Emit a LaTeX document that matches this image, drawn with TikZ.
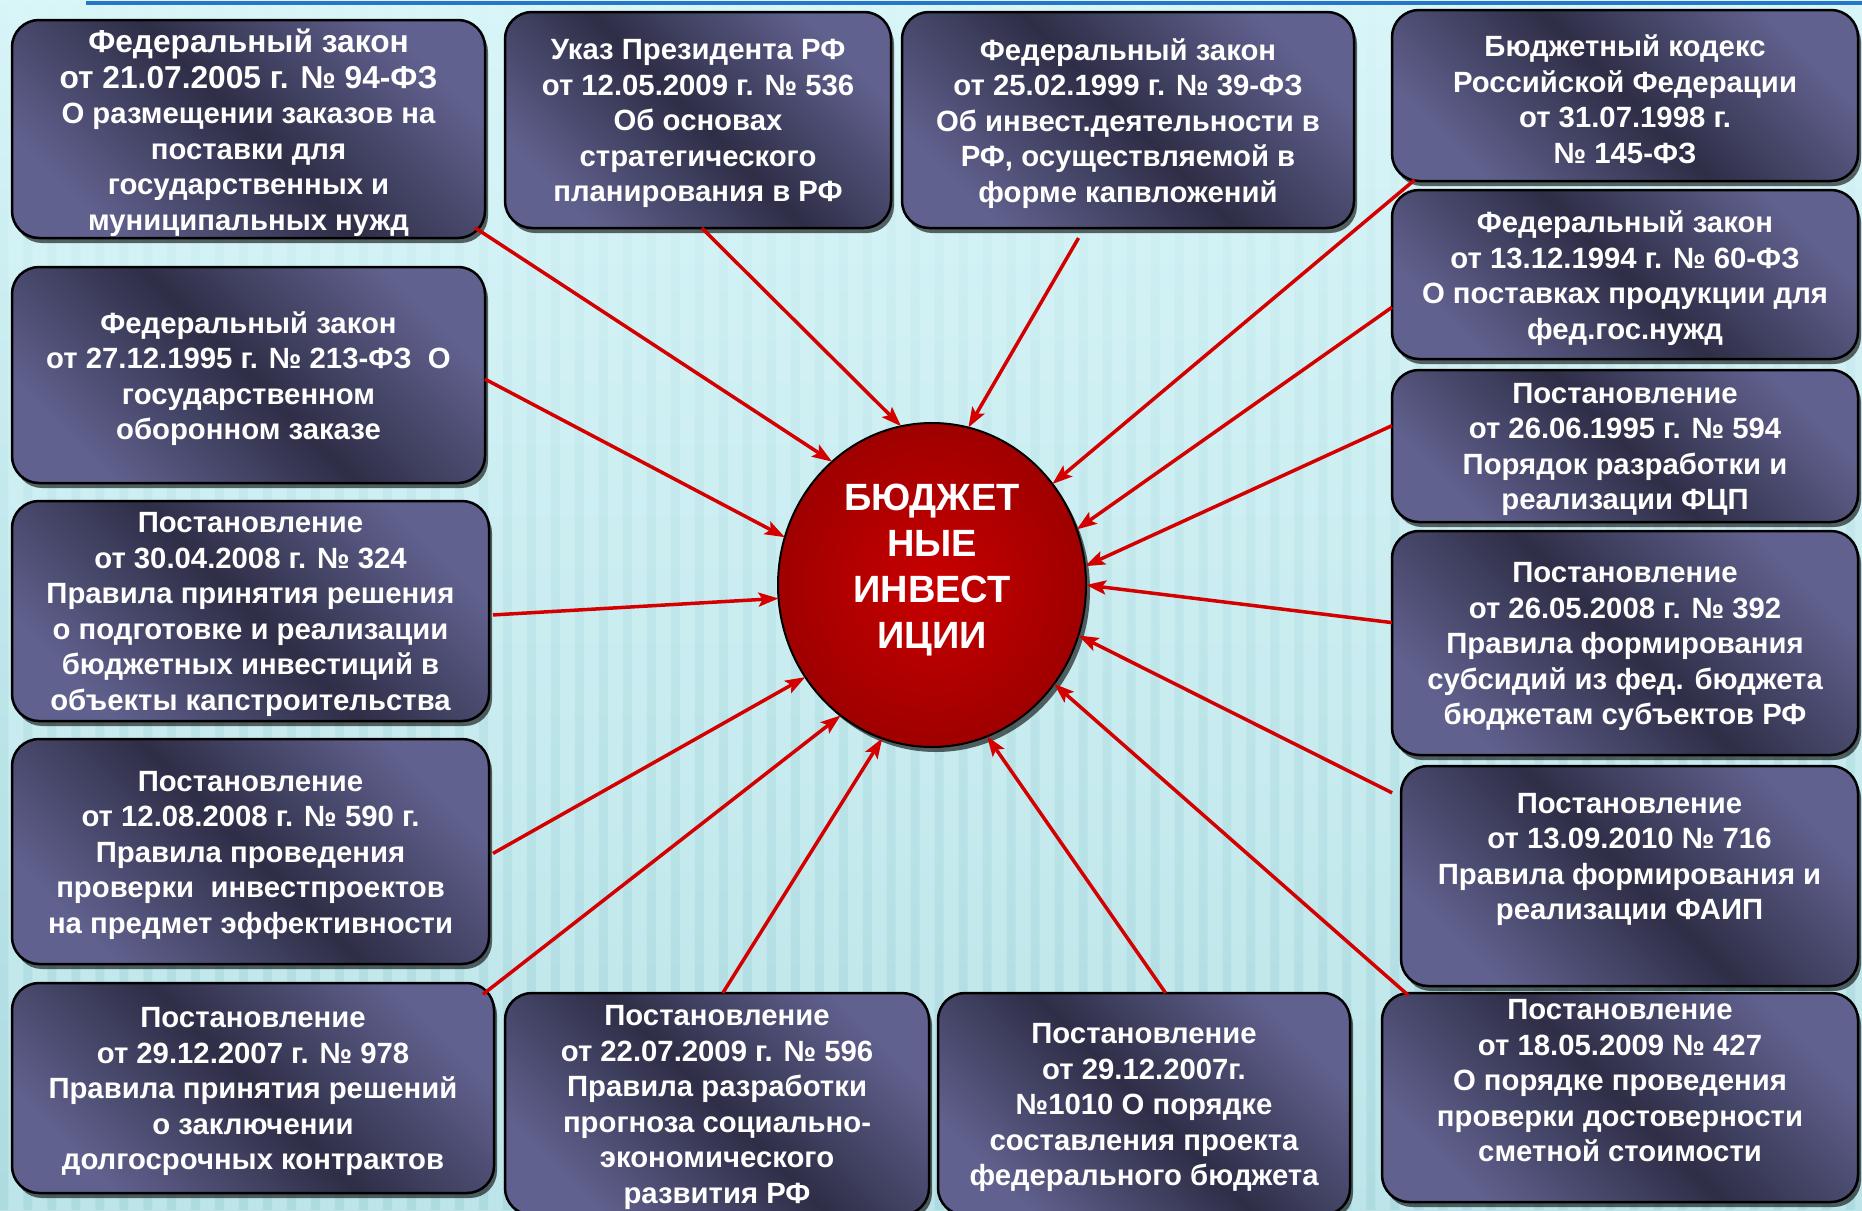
\documentclass[tikz,border=0pt]{standalone}
\usepackage{fontspec}
\setmainfont{Liberation Sans}
\usetikzlibrary{shadows,arrows.meta,calc,shapes.geometric,fadings}
\definecolor{bgtop}{HTML}{D8F5F8}
\definecolor{bgbot}{HTML}{BDE5E9}
\definecolor{stripe}{HTML}{8FCAD1}
\definecolor{boxL}{HTML}{61618F}
\definecolor{boxD}{HTML}{2E2E47}
\definecolor{arr}{HTML}{D40000}
\definecolor{topline}{HTML}{2677C9}
\definecolor{cin}{HTML}{C80000}
\definecolor{cout}{HTML}{760000}
\pgfdeclareradialshading{redball}{\pgfpoint{0bp}{0bp}}{color(0bp)=(cin); color(50bp)=(cout); color(100bp)=(cout)}
\tikzset{
 lawbox/.style={draw=black, line width=2.5pt, rounded corners=27pt, left color=boxL, right color=boxL, middle color=boxD, shading angle=-45, outer sep=0pt, inner sep=0pt, drop shadow={shadow xshift=3pt, shadow yshift=-5pt, opacity=0.6, fill=black}},
 lawtext/.style={text=white, align=center, font=\fontsize{29.3}{35.5}\selectfont\bfseries, inner sep=0pt, yshift=-3.5pt},
 link/.style={draw=arr, line width=3.5pt, -{Stealth[length=20pt,width=14pt,inset=4pt]}},
}
\newcommand{\bighead}{\fontsize{31.7}{36}\selectfont}
\begin{document}
\begin{tikzpicture}[x=1pt,y=-1pt]
\useasboundingbox (0,0) rectangle (1862,1210);
\fill[top color=bgtop, bottom color=bgbot] (0,0) rectangle (1862,1210);
\fill[stripe, opacity=0.35, path fading=north] \foreach \x in {0,24,...,1870} {(\x,0) rectangle ++(9,1210)};
\draw[topline, line width=4pt] (86,3) -- (1862,3);

\node[lawbox, minimum width=473pt, minimum height=218pt] (b1) at (248.5,129) {};
\node[lawbox, minimum width=386pt, minimum height=216pt] (b2) at (698,120) {};
\node[lawbox, minimum width=452pt, minimum height=216pt] (b3) at (1128,120) {};
\node[lawbox, minimum width=466pt, minimum height=171pt] (b4) at (1625,95.5) {};
\node[lawbox, minimum width=466pt, minimum height=169pt] (b5) at (1625,274.5) {};
\node[lawbox, minimum width=466pt, minimum height=152pt] (b6) at (1625,446) {};
\node[lawbox, minimum width=466pt, minimum height=224pt] (b7) at (1625,643) {};
\node[lawbox, minimum width=457pt, minimum height=220pt] (b8) at (1629.5,876) {};
\node[lawbox, minimum width=476pt, minimum height=209pt] (b9) at (1620,1097.5) {};
\node[lawbox, minimum width=412pt, minimum height=222pt] (b10) at (1144,1104) {};
\node[lawbox, minimum width=424pt, minimum height=222pt] (b11) at (717,1104) {};
\node[lawbox, minimum width=482pt, minimum height=210pt] (b12) at (253,1088) {};
\node[lawbox, minimum width=477pt, minimum height=225pt] (b13) at (250.5,851.5) {};
\node[lawbox, minimum width=477pt, minimum height=220pt] (b14) at (250.5,611) {};
\node[lawbox, minimum width=473pt, minimum height=216pt] (b15) at (248.5,375) {};

\node[lawtext] (t1) at (b1) {{\bighead Федеральный закон}\\{\bighead от 21.07.2005 г. № 94-ФЗ}\\О размещении заказов на\\поставки для\\государственных и\\муниципальных нужд};
\node[lawtext] (t2) at (b2) {Указ Президента РФ\\от 12.05.2009 г. № 536\\Об основах\\стратегического\\планирования в РФ};
\node[lawtext] (t3) at (b3) {Федеральный закон\\от 25.02.1999 г. № 39-ФЗ\\Об инвест.деятельности в\\РФ, осуществляемой в\\форме капвложений};
\node[lawtext] (t4) at (b4) {Бюджетный кодекс\\Российской Федерации\\от 31.07.1998 г.\\№ 145-ФЗ};
\node[lawtext] (t5) at (b5) {Федеральный закон\\от 13.12.1994 г. № 60-ФЗ\\О поставках продукции для\\фед.гос.нужд};
\node[lawtext] (t6) at (b6) {Постановление\\от 26.06.1995 г. № 594\\Порядок разработки и\\реализации ФЦП};
\node[lawtext] (t7) at (b7) {Постановление\\от 26.05.2008 г. № 392\\Правила формирования\\субсидий из фед. бюджета\\бюджетам субъектов РФ};
\node[lawtext] (t8) at ($(b8)+(0,-20)$) {Постановление\\от 13.09.2010 № 716\\Правила формирования и\\реализации ФАИП};
\node[lawtext] (t9) at ($(b9)+(0,-20)$) {Постановление\\от 18.05.2009 № 427\\О порядке проведения\\проверки достоверности\\сметной стоимости};
\node[lawtext] (t10) at (b10) {Постановление\\от 29.12.2007г.\\№1010 О порядке\\составления проекта\\федерального бюджета};
\node[lawtext] (t11) at (b11) {Постановление\\от 22.07.2009 г. № 596\\Правила разработки\\прогноза социально-\\экономического\\развития РФ};
\node[lawtext] (t12) at (b12) {Постановление\\от 29.12.2007 г. № 978\\Правила принятия решений\\о заключении\\долгосрочных контрактов};
\node[lawtext] (t13) at (b13) {Постановление\\от 12.08.2008 г. № 590 г.\\Правила проведения\\проверки\ \ инвестпроектов\\на предмет эффективности};
\node[lawtext] (t14) at (b14) {Постановление\\от 30.04.2008 г. № 324\\Правила принятия решения\\о подготовке и реализации\\бюджетных инвестиций в\\объекты капстроительства};
\node[lawtext] (t15) at (b15) {Федеральный закон\\от 27.12.1995 г. № 213-ФЗ\ \ О\\государственном\\оборонном заказе};

\node[ellipse, draw=black, line width=2pt, minimum width=308pt, minimum height=324pt, inner sep=0pt, outer sep=0pt, shading=redball, drop shadow={shadow xshift=4pt, shadow yshift=-5pt, opacity=0.6, fill=black}] (c) at (932,585) {};
\node[text=white, align=center, font=\fontsize{38}{46}\selectfont\bfseries, inner sep=0pt] (ct) at (932,570) {БЮДЖЕТ\\НЫЕ\\ИНВЕСТ\\ИЦИИ};

\draw[link, shorten <=-12pt] (b1.-24.2) -- (c.129.2);
\draw[link] (b2.-88.9) -- (c.101.6);
\draw[link, shorten <=11.6pt] (b3.-112.2) -- (c.77.4);
\draw[link, shorten <=-1.5pt] (b4.-158.7) -- (c.40.7);
\draw[link] (b5.-172.3) -- (c.21.2);
\draw[link] (b6.175.3) -- (c.7.1);
\draw[link] (b7.175.1) -- (c.-0.7);
\draw[link, shorten <=10pt] (b8.161.3) -- (c.-19.4);
\draw[link, shorten <=-3pt] (b9.154.6) -- (c.-39.9);
\draw[link] (b10.79.8) -- (c.-70.3);
\draw[link] (b11.87.9) -- (c.-108.7);
\draw[link, shorten <=-14pt] (b12.23.3) -- (c.-125.5);
\draw[link, shorten <=4.6pt] (b13.-1.9) -- (c.-144.9);
\draw[link, shorten <=4pt] (b14.-1.0) -- (c.-175.5);
\draw[link] (b15.-1.2) -- (c.162);
\end{tikzpicture}
\end{document}
